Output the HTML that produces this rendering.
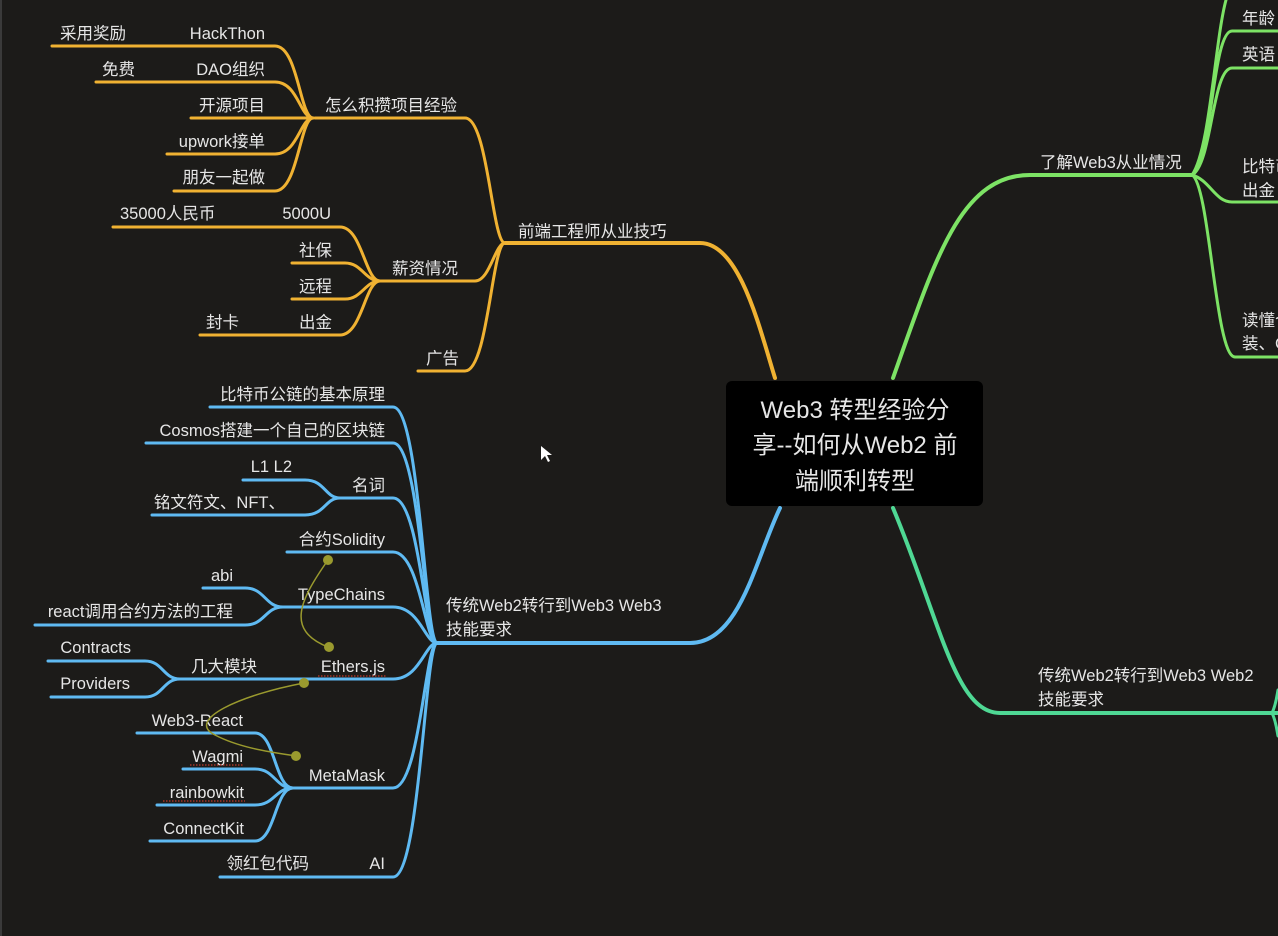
<!DOCTYPE html>
<html><head><meta charset="utf-8"><style>
html,body{margin:0;padding:0;background:#1c1b19;width:1278px;height:936px;overflow:hidden}
svg{display:block}
text{font-family:"Liberation Sans","Noto Sans CJK SC",sans-serif;fill:#e6e6e6;font-size:16.5px}
.o{stroke:#f0b232;fill:none;stroke-width:3;stroke-linecap:round}
.b{stroke:#5fbaf2;fill:none;stroke-width:3;stroke-linecap:round}
.g{stroke:#7de365;fill:none;stroke-width:3;stroke-linecap:round}
.t{stroke:#4fd894;fill:none;stroke-width:3;stroke-linecap:round}
.r{text-anchor:end}
</style></head><body>
<svg width="1278" height="936" viewBox="0 0 1278 936">
<rect x="0" y="0" width="2" height="936" fill="#3a3a3a"/>
<!-- orange -->
<path class="o" style="stroke-width:4" d="M505 243 L700 243 C740 243 760 330 775 378"/>
<path class="o" d="M315 118 L465 118 C488 118 492 243 505 243"/>
<path class="o" d="M380 281 L475 281 C490 281 495 243 505 243"/>
<path class="o" d="M418 371 L465 371 C488 371 492 243 505 243"/>
<path class="o" d="M52 46 L275 46 C298 46 300 118 313 118"/>
<path class="o" d="M96 82 L275 82 C298 82 300 118 313 118"/>
<path class="o" d="M191 118 L313 118"/>
<path class="o" d="M167 154 L275 154 C298 154 300 118 313 118"/>
<path class="o" d="M174 191 L275 191 C298 191 300 118 313 118"/>
<path class="o" d="M113 227 L340 227 C362 227 365 281 380 281"/>
<path class="o" d="M292 263 L345 263 C362 263 365 281 380 281"/>
<path class="o" d="M292 299 L345 299 C362 299 365 281 380 281"/>
<path class="o" d="M200 335 L340 335 C362 335 365 281 380 281"/>
<text x="518" y="237">前端工程师从业技巧</text>
<text x="325" y="111">怎么积攒项目经验</text>
<text x="392" y="274">薪资情况</text>
<text x="426" y="364">广告</text>
<text x="60" y="39">采用奖励</text>
<text x="265" y="39" class="r">HackThon</text>
<text x="102" y="75">免费</text>
<text x="265" y="75" class="r">DAO组织</text>
<text x="265" y="111" class="r">开源项目</text>
<text x="265" y="147" class="r">upwork接单</text>
<text x="265" y="183" class="r">朋友一起做</text>
<text x="120" y="219">35000人民币</text>
<text x="331" y="219" class="r">5000U</text>
<text x="332" y="256" class="r">社保</text>
<text x="332" y="292" class="r">远程</text>
<text x="206" y="328">封卡</text>
<text x="332" y="328" class="r">出金</text>
<!-- blue -->
<path class="b" style="stroke-width:4" d="M437 643 L690 643 C740 643 755 560 780 508"/>
<path class="b" d="M210 407 L393 407 C420 407 425 643 437 643"/>
<path class="b" d="M146 443 L393 443 C420 443 425 643 437 643"/>
<path class="b" d="M340 498 L393 498 C420 498 425 643 437 643"/>
<path class="b" d="M287 552 L393 552 C420 552 425 643 437 643"/>
<path class="b" d="M283 607 L393 607 C420 607 425 643 437 643"/>
<path class="b" d="M180 679 L393 679 C420 679 425 643 437 643"/>
<path class="b" d="M293 788 L393 788 C420 788 425 643 437 643"/>
<path class="b" d="M220 877 L393 877 C420 877 425 643 437 643"/>
<path class="b" d="M243 480 L305 480 C325 480 325 498 340 498"/>
<path class="b" d="M152 515 L305 515 C325 515 325 498 340 498"/>
<path class="b" d="M203 588 L245 588 C265 588 265 607 283 607"/>
<path class="b" d="M35 625 L245 625 C265 625 265 607 283 607"/>
<path class="b" d="M48 661 L145 661 C163 661 163 679 180 679"/>
<path class="b" d="M51 697 L145 697 C163 697 163 679 180 679"/>
<path class="b" d="M137 733 L255 733 C275 733 275 788 293 788"/>
<path class="b" d="M183 769 L255 769 C275 769 275 788 293 788"/>
<path class="b" d="M157 805 L255 805 C275 805 275 788 293 788"/>
<path class="b" d="M150 841 L255 841 C275 841 275 788 293 788"/>
<text x="446" y="611">传统Web2转行到Web3 Web3</text>
<text x="446" y="635">技能要求</text>
<text x="385" y="400" class="r">比特币公链的基本原理</text>
<text x="385" y="436" class="r">Cosmos搭建一个自己的区块链</text>
<text x="292" y="472" class="r">L1 L2</text>
<text x="385" y="491" class="r">名词</text>
<text x="285" y="508" class="r">铭文符文、NFT、</text>
<text x="385" y="545" class="r">合约Solidity</text>
<text x="233" y="581" class="r">abi</text>
<text x="385" y="600" class="r">TypeChains</text>
<text x="233" y="617" class="r">react调用合约方法的工程</text>
<text x="131" y="653" class="r">Contracts</text>
<text x="257" y="672" class="r">几大模块</text>
<text x="385" y="672" class="r">Ethers.js</text>
<text x="130" y="689" class="r">Providers</text>
<text x="243" y="726" class="r">Web3-React</text>
<text x="243" y="762" class="r">Wagmi</text>
<text x="385" y="781" class="r">MetaMask</text>
<text x="244" y="798" class="r">rainbowkit</text>
<text x="244" y="834" class="r">ConnectKit</text>
<text x="309" y="869" class="r">领红包代码</text>
<text x="385" y="869" class="r">AI</text>
<g stroke="#c0392b" stroke-width="1.2" stroke-dasharray="1.5,1.5">
<line x1="318" y1="676" x2="386" y2="676"/>
<line x1="190" y1="765" x2="244" y2="765"/>
<line x1="163" y1="801" x2="245" y2="801"/>
</g>
<!-- olive connectors -->
<g stroke="#9a9a2e" stroke-width="1.5" fill="none">
<path d="M328 560 C300 600 285 630 328 647"/>
<path d="M304 683 C240 695 185 720 215 735 C240 748 270 752 296 756"/>
</g>
<g fill="#9a9a2e">
<circle cx="328" cy="560" r="5"/><circle cx="329" cy="647" r="5"/>
<circle cx="304" cy="683" r="5"/><circle cx="296" cy="756" r="5"/>
</g>
<!-- green -->
<path class="g" style="stroke-width:4" d="M893 378 C935 260 960 175 1030 175 L1192 175"/>
<path class="g" d="M1192 175 C1210 150 1215 40 1226 0"/>
<path class="g" d="M1192 175 C1212 165 1212 31 1232 31 L1278 31"/>
<path class="g" d="M1192 175 C1212 165 1212 68 1232 68 L1278 68"/>
<path class="g" d="M1192 175 C1210 180 1215 202 1232 202 L1278 202"/>
<path class="g" d="M1192 175 C1210 185 1215 357 1235 357 L1278 357"/>
<text x="1040" y="168">了解Web3从业情况</text>
<text x="1242" y="24">年龄</text>
<text x="1242" y="60">英语</text>
<text x="1242" y="172">比特币</text>
<text x="1242" y="196">出金</text>
<text x="1242" y="326">读懂合</text>
<text x="1242" y="349">装、C</text>
<!-- teal -->
<path class="t" style="stroke-width:4" d="M893 508 C940 620 955 713 1000 713 L1278 713"/>
<path class="t" d="M1272 713 C1276 705 1277 695 1278 690"/>
<path class="t" d="M1272 713 C1276 721 1277 731 1278 736"/>
<text x="1038" y="681">传统Web2转行到Web3 Web2</text>
<text x="1038" y="705">技能要求</text>
<!-- center -->
<rect x="726" y="381" width="257" height="125" rx="6" fill="#000"/>
<text x="855" y="418" style="font-size:24px;text-anchor:middle">Web3 转型经验分</text>
<text x="855" y="453" style="font-size:24px;text-anchor:middle">享--如何从Web2 前</text>
<text x="855" y="489" style="font-size:24px;text-anchor:middle">端顺利转型</text>
<path d="M541 446 L541 460 L545 456 L548 462 L550 461 L547 455 L552 455 Z" fill="#fff"/>
</svg>
</body></html>
